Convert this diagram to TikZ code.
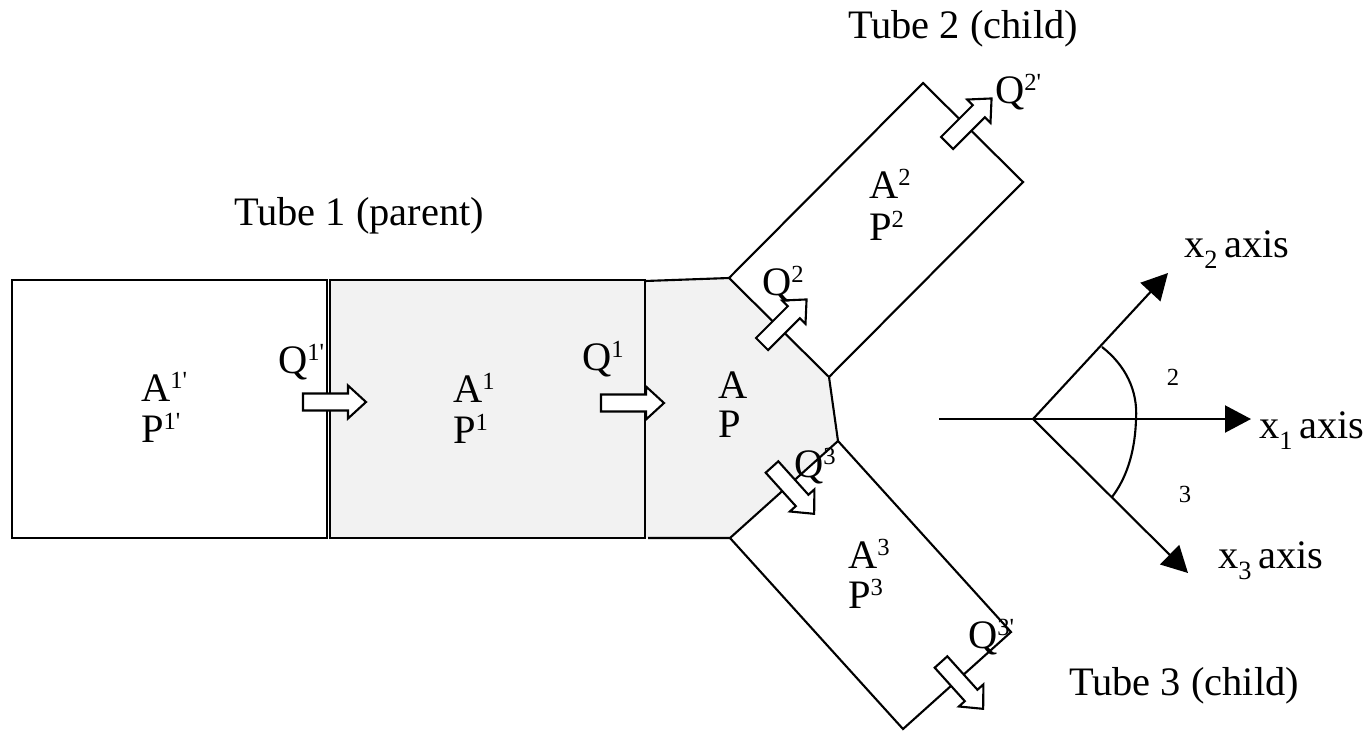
\documentclass[tikz,border=0pt]{standalone}
\usepackage{fontspec}
\setmainfont{Liberation Serif}
\usetikzlibrary{arrows.meta}

\newcommand{\pr}{\textquotesingle}
\newcommand{\sups}[1]{\raisebox{0.32em}{\fontsize{7}{8}\selectfont #1}}
\newcommand{\subs}[1]{\raisebox{-0.28em}{\fontsize{7.5}{8}\selectfont #1}}

\begin{document}
\begin{tikzpicture}[x=0.01cm, y=-0.01cm, line width=0.6pt,
    every node/.style={font=\fontsize{11.5}{13}\selectfont, inner sep=0pt},
    lbl/.style={anchor=base west},
    small/.style={font=\fontsize{7}{8}\selectfont},
    axisline/.style={-{Triangle[length=0.26cm, width=0.27cm]}},
    flow/.pic={\draw[fill=white] (0,-8.5) -- (45,-8.5) -- (45,-16.5) -- (63,0) -- (45,16.5) -- (45,8.5) -- (0,8.5) -- cycle;}]
    \useasboundingbox (0,0) rectangle (1370,733);

    % junction
    \coordinate (j1) at (645,281);
    \coordinate (j2) at (729,278);
    \coordinate (j3) at (829,377);
    \coordinate (j4) at (838,441);
    \coordinate (j5) at (730,538);
    \coordinate (j6) at (648,538);
    \fill[gray!10] (j1) -- (j2) -- (j3) -- (j4) -- (j5) -- (645,538) -- cycle;
    \draw (j1) -- (j2) -- (j3) -- (j4) -- (j5) -- (j6);

    % parent tube
    \draw (12,280) rectangle (327,538);
    \draw[fill=gray!10] (330,280) rectangle (645,538);

    % child tubes
    \draw (j2) -- (923,83) -- (1023,182) -- (j3);
    \draw (j4) -- (1011,632) -- (903,729) -- (j5);

    % flows
    \pic at (303,402) {flow};
    \pic at (601,403) {flow};
    \pic[rotate=45] at (762,344) {flow};
    \pic[rotate=45] at (947,143) {flow};
    \pic[rotate=-48] at (772,467) {flow};
    \pic[rotate=-48] at (941,662) {flow};

    \node[lbl] (a1p) at (140,401) {A\sups{1\pr}};
    \node[lbl] (p1p) at (140,442) {P\sups{1\pr}};
    \node[lbl] (a1) at (452,402) {A\sups{1}};
    \node[lbl] (p1) at (452,443) {P\sups{1}};
    \node[lbl] (a0) at (717,398) {A};
    \node[lbl] (p0) at (717,437) {P};
    \node[lbl] (a2) at (868,198) {A\sups{2}};
    \node[lbl] (p2) at (868,240) {P\sups{2}};
    \node[lbl] (a3) at (847,568) {A\sups{3}};
    \node[lbl] (p3) at (847,608) {P\sups{3}};

    \node[lbl] (q1p) at (277,373) {Q\sups{1\pr}};
    \node[lbl] (q1) at (581,370) {Q\sups{1}};
    \node[lbl] (q2) at (761,295) {Q\sups{2}};
    \node[lbl] (q2p) at (994,103) {Q\sups{2\pr}};
    \node[lbl] (q3) at (793,477) {Q\sups{3}};
    \node[lbl] (q3p) at (967,648) {Q\sups{3\pr}};

    \node[lbl] (tube1) at (233,225) {Tube 1 (parent)};
    \node[lbl] (tube2) at (847,38) {Tube 2 (child)};
    \node[lbl] (tube3) at (1068,695) {Tube 3 (child)};

    % axes
    \coordinate (o) at (1033,419);
    \coordinate (x1s) at (939,419);
    \coordinate (x1e) at (1251,419);
    \coordinate (x2e) at (1168,273);
    \coordinate (x3e) at (1188,573);
    \draw[axisline] (x1s) -- (x1e);
    \draw[axisline] (o) -- (x2e);
    \draw[axisline] (o) -- (x3e);
    \draw (1102,347) .. controls (1125,365) and (1138,390) .. (1136,419)
        .. controls (1135,455) and (1125,480) .. (1112,497);
    \node[small] (th2) at (1173,377) {2};
    \node[small] (th3) at (1185,494) {3};

    \node[lbl] (x2lbl) at (1183,257) {x\subs{2}\,axis};
    \node[lbl] (x1lbl) at (1258,438) {x\subs{1}\,axis};
    \node[lbl] (x3lbl) at (1217,568) {x\subs{3}\,axis};
\end{tikzpicture}
\end{document}
